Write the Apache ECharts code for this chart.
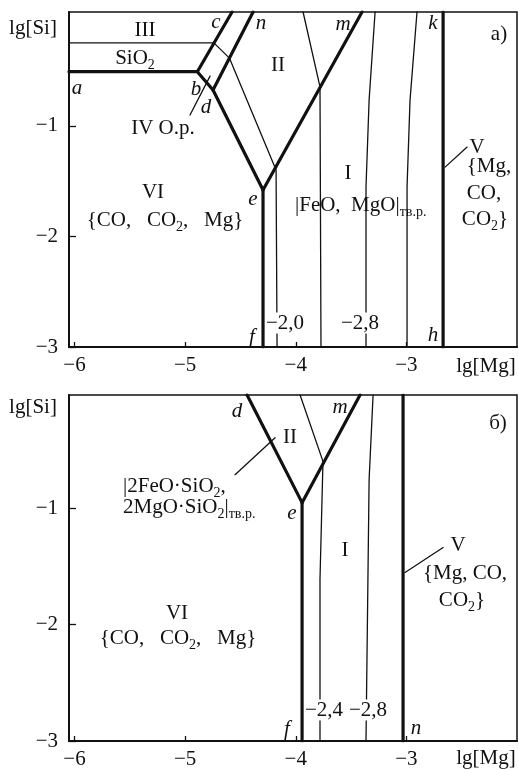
<!DOCTYPE html>
<html><head><meta charset="utf-8">
<script src="https://cdn.jsdelivr.net/npm/echarts@6/dist/echarts.min.js"></script>
<style>html,body{margin:0;padding:0;background:#fff}#c{width:518px;height:770px}</style>
</head><body><div id="c"></div>
<script>
// ---------------- data (lg[Mg], lg[Si]) ----------------
const xTicks = [-6, -5, -4, -3];
const yTicks = [-3, -2, -1];
const xRange = [-6.05, -2.0];
const yRangeA = [-3, 0.03];
const yRangeB = [-3, -0.03];

// panel а) — thick boundaries
const aBoundABC = [[-6.05, -0.51], [-4.89, -0.51], [-4.576, 0.03]];
const aBoundN   = [[-4.748, -0.676], [-4.386, 0.03]];
const aBoundBE  = [[-4.89, -0.51], [-4.748, -0.676], [-4.296, -1.58]];
const aBoundEM  = [[-4.296, -1.58], [-3.401, 0.03]];
const aBoundEF  = [[-4.296, -1.58], [-4.296, -3]];
const aBoundKH  = [[-2.668, 0.03], [-2.668, -3]];
// panel а) — thin isolines
const aIso20 = [[-6.05, -0.249], [-4.74, -0.249], [-4.600, -0.387], [-4.178, -1.40], [-4.169, -3]];
const aIso24 = [[-3.934, 0.03], [-3.781, -0.648], [-3.772, -3]];
const aIso28 = [[-3.283, 0.03], [-3.337, -0.767], [-3.365, -1.553], [-3.365, -3]];
const aIso32 = [[-2.904, 0.03], [-2.967, -0.767], [-2.994, -1.553], [-2.994, -3]];
const aPtrIV = [[-4.956, -0.902], [-4.775, -0.55]];
const aPtrV  = [[-2.65, -1.373], [-2.451, -1.192]];

// panel б) — thick boundaries
const bBoundDE = [[-4.44, -0.03], [-3.943, -0.954]];
const bBoundEM = [[-3.943, -0.954], [-3.419, -0.03]];
const bBoundEF = [[-3.943, -0.954], [-3.943, -3]];
const bBoundN  = [[-3.03, -0.03], [-3.03, -3]];
// panel б) — thin isolines
const bIso24 = [[-3.961, -0.03], [-3.754, -0.60], [-3.781, -1.613], [-3.781, -3]];
const bIso28 = [[-3.301, -0.03], [-3.337, -0.756], [-3.365, -3]];
const bPtrII = [[-4.549, -0.714], [-4.187, -0.397]];
const bPtrV  = [[-3.012, -1.553], [-2.668, -1.339]];

// ---------------- chart ----------------
const SERIF = '"Liberation Serif", "Times New Roman", serif';
const INK = '#111';
const THICK = 3.2, THIN = 1.3;
const fmt = v => (v < 0 ? '\u2212' : '') + Math.abs(v);

function xAx(gi) {
  return {
    type: 'value', gridIndex: gi, min: xRange[0], max: xRange[1],
    axisLine: { show: true, onZero: false, lineStyle: { color: INK, width: 2 } },
    axisTick: { show: true, inside: true, length: 5, customValues: xTicks, lineStyle: { color: INK, width: 1.3 } },
    axisLabel: { show: true, customValues: xTicks, margin: 8, formatter: fmt, fontFamily: SERIF, fontSize: 21, color: INK },
    splitLine: { show: false }
  };
}
function yAx(gi, r) {
  return {
    type: 'value', gridIndex: gi, min: r[0], max: r[1],
    axisLine: { show: true, onZero: false, lineStyle: { color: INK, width: 2 } },
    axisTick: { show: true, inside: true, length: 7, customValues: yTicks, lineStyle: { color: INK, width: 1.3 } },
    axisLabel: { show: true, customValues: yTicks, margin: 11, formatter: fmt, fontFamily: SERIF, fontSize: 21, color: INK },
    splitLine: { show: false }
  };
}
function ln(data, w, gi) {
  return { type: 'line', xAxisIndex: gi, yAxisIndex: gi, data: data, symbol: 'none', silent: true,
    animation: false, z: 3, lineStyle: { color: INK, width: w, cap: 'round', join: 'round' } };
}

const RICH = {
  s: { fontSize: 14, fontFamily: SERIF, fill: INK, padding: [14, 0, 0, 0] },
  t: { fontSize: 14, fontFamily: SERIF, fill: INK, padding: [14, 0, 0, 0] }
};
function T(x, y, text, o) {
  o = o || {};
  const st = {
    text: text, fontSize: o.size || 21, fontFamily: SERIF, fontStyle: o.italic ? 'italic' : 'normal',
    fill: INK, align: o.align || 'center', verticalAlign: 'middle', rich: RICH
  };
  if (o.bg) { st.backgroundColor = '#fff'; st.padding = [0, 0]; }
  return { type: 'text', x: x, y: y, z: 20, silent: true, style: st };
}
const I = { italic: true };

const texts = [
  // panel а)
  T(33, 28, 'lg[Si]'), T(486, 366, 'lg[Mg]'),
  T(145, 30, 'III'), T(135, 58, 'SiO{s|2}'),
  T(77, 88, 'a', I), T(196, 89, 'b', I), T(216, 22, 'c', I), T(261, 23, 'n', I), T(206, 107, 'd', I),
  T(163, 128, 'IV О.р.'), T(278, 65, 'II'), T(343, 24, 'm', I), T(433, 23, 'k', I), T(499, 34, 'а)'),
  T(348, 173, 'I'), T(295, 205, '|FeO,  MgO|{t|тв.р.}', { align: 'left' }),
  T(477, 147, 'V'), T(489, 166, '{Mg,'), T(484, 193, 'CO,'), T(485, 219, 'CO{s|2}}'),
  T(153, 192, 'VI'), T(165, 220, '{CO,   CO{s|2},   Mg}'),
  T(253, 199, 'e', I), T(252, 337, 'f', I), T(433, 335, 'h', I),
  T(285, 323, '\u22122,0', { bg: true }), T(360, 323, '\u22122,8', { bg: true }),
  // panel б)
  T(33, 407, 'lg[Si]'), T(486, 758, 'lg[Mg]'),
  T(237, 411, 'd', I), T(340, 407, 'm', I), T(498, 423, 'б)'), T(290, 437, 'II'),
  T(123, 486, '|2FeO·SiO{s|2},', { align: 'left' }), T(123, 507, '2MgO·SiO{s|2}|{t|тв.р.}', { align: 'left' }),
  T(292, 513, 'e', I), T(345, 550, 'I'), T(458, 545, 'V'),
  T(465, 573, '{Mg, CO,'), T(462, 600, 'CO{s|2}}'),
  T(177, 613, 'VI'), T(178, 638, '{CO,   CO{s|2},   Mg}'),
  T(287, 729, 'f', I), T(416, 728, 'n', I),
  T(324, 710, '\u22122,4', { bg: true }), T(368, 710, '\u22122,8', { bg: true })
];

const chart = echarts.init(document.getElementById('c'), null, { renderer: 'canvas' });
chart.setOption({
  animation: false,
  backgroundColor: '#fff',
  grid: [
    { left: 69, top: 12, width: 448, height: 335, show: true, borderColor: INK, borderWidth: 1.5, backgroundColor: 'transparent' },
    { left: 69, top: 395, width: 448, height: 347, show: true, borderColor: INK, borderWidth: 1.5, backgroundColor: 'transparent' }
  ],
  xAxis: [xAx(0), xAx(1)],
  yAxis: [yAx(0, yRangeA), yAx(1, yRangeB)],
  series: [
    ln(aBoundABC, THICK, 0), ln(aBoundN, THICK, 0), ln(aBoundBE, THICK, 0), ln(aBoundEM, THICK, 0),
    ln(aBoundEF, THICK, 0), ln(aBoundKH, THICK, 0),
    ln(aIso20, THIN, 0), ln(aIso24, THIN, 0), ln(aIso28, THIN, 0), ln(aIso32, THIN, 0),
    ln(aPtrIV, THIN, 0), ln(aPtrV, THIN, 0),
    ln(bBoundDE, THICK, 1), ln(bBoundEM, THICK, 1), ln(bBoundEF, THICK, 1), ln(bBoundN, THICK, 1),
    ln(bIso24, THIN, 1), ln(bIso28, THIN, 1), ln(bPtrII, THIN, 1), ln(bPtrV, THIN, 1)
  ],
  graphic: { elements: texts }
});
</script></body></html>
